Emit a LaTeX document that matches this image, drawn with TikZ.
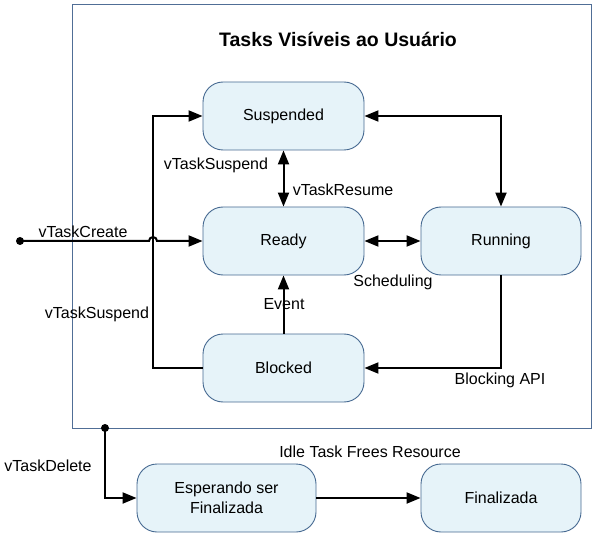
\documentclass[tikz,border=0pt]{standalone}
\usepackage{fontspec}
\setmainfont{Liberation Sans}
\usetikzlibrary{arrows.meta}
\definecolor{boxfill}{RGB}{230,243,249}
\definecolor{boxline}{RGB}{70,105,145}
\definecolor{frameline}{RGB}{80,110,150}
\begin{document}
\begin{tikzpicture}[x=1pt,y=-1pt,
  state/.style={draw=boxline,fill=boxfill,line width=0.9pt,rounded corners=20pt,
    minimum width=161pt,minimum height=68pt,align=center,inner sep=2pt,
    font=\fontsize{16}{19.5}\selectfont},
  lbl/.style={font=\fontsize{16}{19}\selectfont,inner sep=1pt,yshift=-1.5pt},
  arr/.style={line width=2pt,-{Triangle[length=14pt,width=11pt]}},
  darr/.style={line width=2pt,{Triangle[length=14pt,width=11pt]}-{Triangle[length=14pt,width=11pt]}},
  dotst/.style={circle,fill=black,inner sep=0pt,minimum size=8pt}]
\useasboundingbox (0,0) rectangle (597,540);
\draw[frameline,line width=0.9pt] (72,4) rectangle (591,428);
\node[font=\bfseries\fontsize{19.5}{23}\selectfont,yshift=-1pt] (title) at (338,38) {Tasks Visíveis ao Usuário};
\node[state] (susp) at (283.5,116) {Suspended};
\node[state] (ready) at (283.5,241) {Ready};
\node[state,minimum width=160pt] (run) at (501,241) {Running};
\node[state] (blk) at (283.5,368) {Blocked};
\node[state,minimum width=179pt] (esp) at (226.5,498) {Esperando ser\\Finalizada};
\node[state,minimum width=160pt] (fin) at (501,498) {Finalizada};
\node[dotst] (start) at (20,241) {};
\node[dotst] (del) at (105,428) {};
\coordinate (hopL) at (149,241);
\draw[arr] (start.center) -- (hopL) arc[start angle=180,end angle=0,radius=4pt] -- (ready.west);
\draw[arr] (blk.west) -- ++(-50,0) |- (susp.west);
\draw[darr] (susp.south) -- (ready.north);
\draw[darr] (susp.east) -| (run.north);
\draw[darr] (ready.east) -- (run.west);
\draw[arr] (run.south) |- (blk.east);
\draw[arr] (blk.north) -- (ready.south);
\draw[arr] (del.center) |- (esp.west);
\draw[arr] (esp.east) -- (fin.west);
\node[lbl] (l1) at (83,230) {vTaskCreate};
\node[lbl] (l2) at (216,164) {vTaskSuspend};
\node[lbl] (l3) at (343,188) {vTaskResume};
\node[lbl] (l4) at (393,281) {Scheduling};
\node[lbl] (l5) at (500,379) {Blocking API};
\node[lbl] (l6) at (284,303) {Event};
\node[lbl] (l7) at (97,313) {vTaskSuspend};
\node[lbl] (l8) at (48,464) {vTaskDelete};
\node[lbl] (l9) at (370,450) {Idle Task Frees Resource};
\end{tikzpicture}
\end{document}
